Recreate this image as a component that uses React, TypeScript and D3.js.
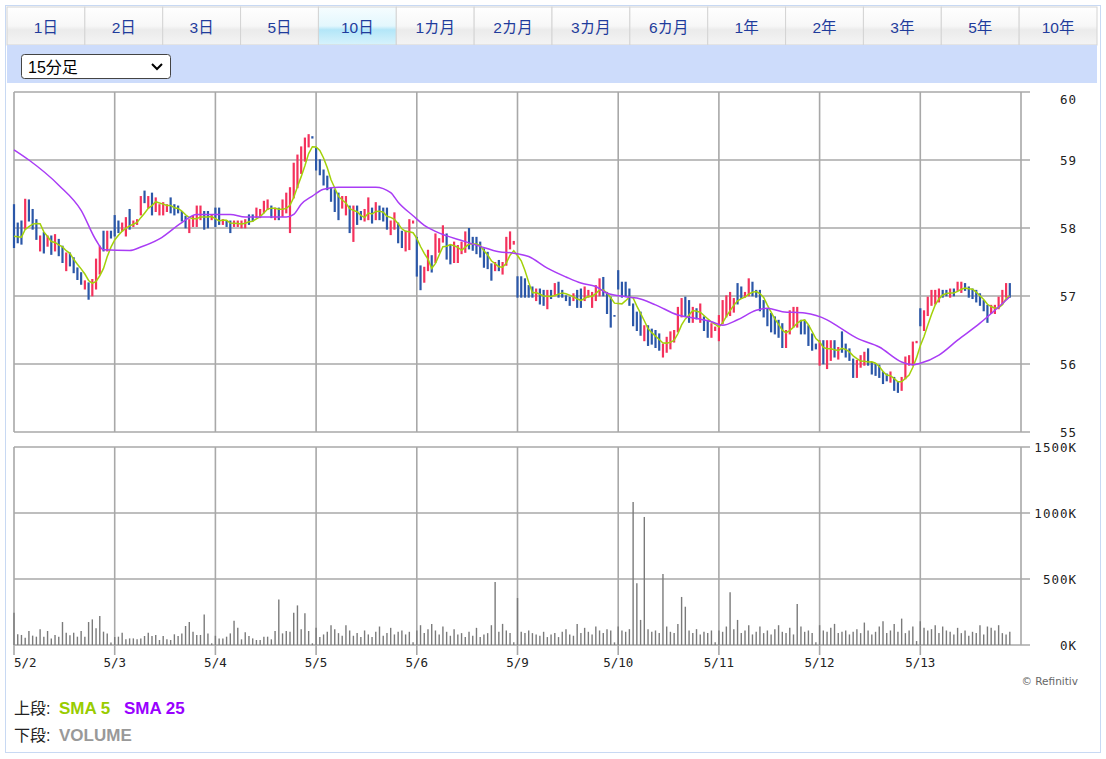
import { useEffect, useRef } from "react";
import * as d3 from "d3";

// tabs and select
const tabLabels = ["1日", "2日", "3日", "5日", "10日", "1カ月", "2カ月", "3カ月", "6カ月", "1年", "2年", "3年", "5年", "10年"];
const activeTab = "10日";
const intervalLabel = "15分足";

// x categories: one session per label, 27 fifteen-minute bars each
const dayLabels = ["5/2", "5/3", "5/4", "5/5", "5/6", "5/9", "5/10", "5/11", "5/12", "5/13"];
const barsPerDay = 27;

const priceTicks = [55, 56, 57, 58, 59, 60];
const volumeTicks = [0, 500, 1000, 1500]; // thousands

// bar highs per session
const dayHighs = [
  [58.35, 58.08, 58.11, 58.43, 58.42, 58.28, 58.13, 57.89, 57.94, 57.89, 57.89, 57.91, 57.84, 57.74, 57.64, 57.64, 57.57, 57.42, 57.35, 57.23, 57.2, 57.25, 57.55, 57.74, 57.96, 57.96, 57.96],
  [58.19, 58.11, 58.08, 58.16, 58.28, 58.11, 58.13, 58.47, 58.55, 58.47, 58.52, 58.45, 58.35, 58.38, 58.35, 58.45, 58.35, 58.33, 58.25, 58.18, 58.13, 58.18, 58.33, 58.33, 58.25, 58.25, 58.2],
  [58.3, 58.3, 58.13, 58.11, 58.11, 58.11, 58.11, 58.11, 58.13, 58.2, 58.2, 58.3, 58.28, 58.4, 58.42, 58.33, 58.3, 58.3, 58.42, 58.52, 58.6, 58.96, 59.08, 59.2, 59.33, 59.38, 59.35],
  [59.18, 59.01, 58.86, 58.77, 58.6, 58.57, 58.52, 58.47, 58.47, 58.33, 58.33, 58.33, 58.25, 58.28, 58.45, 58.3, 58.38, 58.33, 58.3, 58.3, 58.11, 58.23, 58.08, 57.96, 57.96, 58.13, 58.11],
  [57.87, 57.45, 57.43, 57.68, 57.6, 57.92, 57.85, 58.04, 57.92, 57.75, 57.8, 57.75, 57.8, 57.95, 58.0, 57.87, 57.87, 57.8, 57.7, 57.65, 57.48, 57.5, 57.53, 57.5, 57.87, 57.95, 57.81],
  [57.29, 57.29, 57.26, 57.16, 57.14, 57.11, 57.11, 57.09, 57.09, 57.09, 57.19, 57.21, 57.09, 57.01, 56.99, 57.04, 57.09, 57.11, 57.14, 57.09, 57.06, 57.16, 57.26, 57.28, 57.06, 56.99, 56.72],
  [57.38, 57.21, 57.21, 57.11, 56.89, 56.77, 56.77, 56.57, 56.57, 56.52, 56.5, 56.45, 56.3, 56.4, 56.48, 56.5, 56.84, 56.97, 56.99, 56.94, 56.84, 56.82, 56.89, 56.7, 56.65, 56.6, 56.55],
  [56.72, 56.94, 57.01, 57.06, 56.97, 57.19, 57.14, 57.06, 57.26, 57.21, 57.09, 57.09, 56.94, 56.82, 56.75, 56.7, 56.65, 56.6, 56.5, 56.79, 56.84, 56.84, 56.65, 56.65, 56.57, 56.45, 56.3],
  [56.35, 56.35, 56.35, 56.35, 56.35, 56.25, 56.48, 56.3, 56.23, 56.08, 56.06, 56.13, 56.18, 56.23, 56.03, 56.01, 55.99, 55.89, 55.86, 55.89, 55.81, 55.74, 55.81, 56.11, 56.13, 56.33, 56.34],
  [56.82, 56.79, 56.99, 57.09, 57.09, 57.11, 57.09, 57.09, 57.11, 57.11, 57.21, 57.21, 57.19, 57.14, 57.11, 57.09, 57.04, 56.94, 56.87, 56.87, 56.87, 56.99, 57.09, 57.19, 57.19],
];

// bar lows per session
const dayLows = [
  [57.72, 57.79, 57.77, 57.99, 58.11, 57.99, 57.84, 57.67, 57.64, 57.74, 57.62, 57.67, 57.6, 57.5, 57.38, 57.45, 57.35, 57.25, 57.18, 57.11, 56.96, 57.01, 57.11, 57.33, 57.67, 57.67, 57.86],
  [57.89, 57.94, 57.96, 57.89, 57.99, 58.03, 58.06, 58.2, 58.38, 58.3, 58.2, 58.25, 58.2, 58.2, 58.25, 58.23, 58.2, 58.23, 58.11, 58.01, 57.94, 58.03, 58.03, 58.13, 57.99, 58.01, 58.13],
  [58.03, 58.06, 58.06, 58.03, 57.94, 58.03, 58.03, 58.01, 58.01, 58.06, 58.11, 58.16, 58.16, 58.23, 58.28, 58.16, 58.13, 58.13, 58.18, 58.23, 57.94, 58.45, 58.6, 58.81, 58.99, 59.2, 59.33],
  [58.86, 58.79, 58.64, 58.57, 58.4, 58.25, 58.13, 58.3, 58.2, 57.94, 57.81, 58.06, 58.13, 58.11, 58.13, 58.08, 58.13, 58.13, 58.11, 57.99, 57.91, 57.99, 57.79, 57.72, 57.67, 57.69, 58.08],
  [57.3, 57.1, 57.21, 57.38, 57.36, 57.5, 57.65, 57.8, 57.55, 57.48, 57.5, 57.5, 57.63, 57.65, 57.7, 57.68, 57.63, 57.58, 57.43, 57.41, 57.24, 57.38, 57.38, 57.33, 57.46, 57.7, 57.77],
  [56.99, 56.99, 56.99, 56.99, 56.99, 56.94, 56.89, 56.87, 56.82, 56.97, 57.01, 56.99, 56.99, 56.94, 56.87, 56.94, 56.84, 56.84, 56.94, 56.99, 56.84, 56.94, 57.01, 57.01, 56.75, 56.55, 56.71],
  [57.11, 56.99, 57.01, 56.87, 56.57, 56.5, 56.43, 56.35, 56.28, 56.3, 56.25, 56.21, 56.11, 56.18, 56.23, 56.33, 56.48, 56.7, 56.72, 56.62, 56.62, 56.67, 56.62, 56.5, 56.4, 56.4, 56.5],
  [56.35, 56.6, 56.7, 56.72, 56.77, 56.89, 56.97, 56.99, 57.01, 57.01, 56.99, 56.79, 56.7, 56.57, 56.48, 56.45, 56.4, 56.25, 56.25, 56.45, 56.55, 56.55, 56.45, 56.45, 56.28, 56.21, 56.23],
  [55.99, 56.01, 55.94, 56.06, 56.11, 56.08, 56.18, 56.11, 56.06, 55.81, 55.81, 55.96, 55.99, 55.99, 55.86, 55.84, 55.81, 55.72, 55.76, 55.74, 55.62, 55.59, 55.62, 55.79, 55.99, 55.99, 56.32],
  [56.57, 56.5, 56.72, 56.87, 56.89, 56.92, 56.99, 57.01, 56.99, 57.01, 57.09, 57.06, 57.09, 56.99, 56.97, 56.92, 56.87, 56.79, 56.62, 56.75, 56.75, 56.82, 56.89, 56.99, 56.99],
];

// r = up bar, b = down bar
const dayDirs = [
  "bbbrbbbrbrbrbbrbbbbrbrrrbrb",
  "bbrrbrrrbrbrrrrbbbbbrrrrbbr",
  "bbrbbrrrrbbrrrrbrbrrrrrrrrb",
  "bbbbbbbrrbrbbrrbrbbbrrbbrrr",
  "bbrrbrrrbbrrrrbbbbbbbrbrrrr",
  "bbbbbrbbrbrbbbbrbbrrrrrbbbb",
  "bbbbbbbrbbbbrrrrrrbbrbrbbrr",
  "rrrrrbbrrbbbbbbbbbrrrrbbbbb",
  "rbrrbrbbbbrrrbbbbbbrbbrrrrr",
  "brrrrrbbrbrrbbbbbbbrrrrrb",
];

// volume per bar, thousands of shares
const dayVolumes = [
  [245, 81, 76, 55, 106, 71, 63, 119, 63, 106, 50, 76, 63, 174, 93, 73, 93, 63, 106, 63, 174, 194, 126, 220, 101, 88, 18],
  [60, 63, 93, 43, 50, 50, 43, 50, 68, 93, 68, 76, 38, 68, 43, 38, 81, 68, 88, 144, 174, 101, 76, 76, 232, 88, 13],
  [70, 50, 50, 63, 88, 184, 131, 43, 96, 68, 50, 38, 38, 63, 63, 43, 106, 345, 88, 106, 101, 245, 300, 119, 240, 106, 13],
  [130, 60, 80, 100, 150, 120, 90, 70, 150, 110, 70, 90, 60, 110, 80, 60, 100, 140, 70, 90, 130, 80, 100, 110, 80, 100, 20],
  [110, 150, 90, 120, 160, 110, 80, 140, 100, 70, 120, 80, 90, 60, 100, 70, 130, 60, 80, 90, 150, 477, 100, 160, 110, 90, 20],
  [356, 100, 90, 110, 90, 80, 70, 100, 60, 80, 90, 60, 100, 120, 80, 70, 160, 90, 130, 100, 80, 140, 110, 90, 120, 110, 20],
  [140, 110, 100, 120, 1083, 467, 190, 970, 120, 100, 110, 90, 538, 140, 100, 90, 160, 364, 290, 110, 90, 120, 80, 100, 90, 110, 20],
  [110, 100, 140, 400, 120, 190, 90, 110, 150, 80, 100, 140, 90, 110, 80, 120, 150, 100, 90, 130, 80, 310, 140, 100, 110, 90, 20],
  [150, 110, 100, 130, 160, 90, 100, 110, 80, 100, 120, 90, 170, 110, 80, 100, 140, 180, 90, 110, 160, 100, 200, 90, 110, 140, 30],
  [180, 130, 110, 120, 150, 90, 140, 110, 100, 80, 130, 90, 110, 70, 100, 90, 150, 80, 140, 130, 110, 150, 90, 80, 100],
];

// SMA 25 at these bar positions
const sma25Bars = [0, 4, 12, 18, 22, 24, 31, 34, 39, 45, 49, 58, 62, 73, 75, 77, 80, 83, 87, 97, 101, 103, 107, 110, 113, 121, 125, 130, 134, 138, 143, 148, 152, 156, 159, 164, 167, 172, 178, 183, 187, 190, 194, 199, 202, 206, 212, 218, 221, 226, 232, 238, 241, 243, 248, 253, 259, 263, 267];
const sma25Values = [59.15, 59.0, 58.63, 58.26, 57.82, 57.68, 57.67, 57.72, 57.84, 58.08, 58.2, 58.2, 58.16, 58.16, 58.2, 58.35, 58.47, 58.57, 58.6, 58.6, 58.52, 58.38, 58.18, 58.04, 57.95, 57.8, 57.73, 57.65, 57.63, 57.58, 57.41, 57.28, 57.19, 57.14, 57.04, 56.99, 56.97, 56.87, 56.72, 56.67, 56.62, 56.57, 56.65, 56.79, 56.82, 56.77, 56.75, 56.65, 56.55, 56.38, 56.25, 56.03, 55.99, 56.01, 56.13, 56.35, 56.6, 56.79, 56.99];

const UP = "#f4315c";
const DOWN = "#2b57a8";
const GRID = "#a8a8a8";
const MONO = "'DejaVu Sans Mono', monospace";
const JP = "'Liberation Sans', 'Noto Sans CJK JP', sans-serif";

export default function App() {
  const ref = useRef<SVGSVGElement>(null);

  useEffect(() => {
    if (!ref.current) return;
    const svg = d3.select(ref.current);
    svg.selectAll("*").remove();

    const bars = dayHighs.flatMap((hs, d) =>
      hs.map((h, j) => ({
        i: d * barsPerDay + j,
        high: h,
        low: dayLows[d][j],
        up: dayDirs[d][j] === "r",
        vol: dayVolumes[d][j],
      }))
    );

    const left = 14;
    const right = 1021;
    const x = d3.scaleLinear().domain([0, dayLabels.length * barsPerDay]).range([left, right]);
    const y = d3.scaleLinear().domain([55, 60]).range([432, 92]);
    const yv = d3.scaleLinear().domain([0, 1500]).range([645, 447]);

    // ---- header tabs ----
    const defs = svg.append("defs");
    const g1 = defs.append("linearGradient").attr("id", "tab").attr("x1", 0).attr("y1", 0).attr("x2", 0).attr("y2", 1);
    g1.append("stop").attr("offset", "0%").attr("stop-color", "#ffffff");
    g1.append("stop").attr("offset", "50%").attr("stop-color", "#f7f7f7");
    g1.append("stop").attr("offset", "60%").attr("stop-color", "#ebebeb");
    g1.append("stop").attr("offset", "100%").attr("stop-color", "#f4f4f4");
    const g2 = defs.append("linearGradient").attr("id", "tabOn").attr("x1", 0).attr("y1", 0).attr("x2", 0).attr("y2", 1);
    g2.append("stop").attr("offset", "0%").attr("stop-color", "#f6fdff");
    g2.append("stop").attr("offset", "50%").attr("stop-color", "#e3f7fd");
    g2.append("stop").attr("offset", "60%").attr("stop-color", "#b3e6f8");
    g2.append("stop").attr("offset", "100%").attr("stop-color", "#d8f3fc");

    svg.append("rect").attr("x", 5.5).attr("y", 5.5).attr("width", 1095).attr("height", 747)
      .attr("fill", "none").attr("stroke", "#c8d9f3");

    const tabX = d3.scaleBand().domain(tabLabels).range([7, 1097]);
    const tabs = svg.append("g").selectAll("g").data(tabLabels).join("g");
    tabs.append("rect")
      .attr("x", (d) => tabX(d)!).attr("y", 7)
      .attr("width", tabX.bandwidth()).attr("height", 38)
      .attr("fill", (d) => (d === activeTab ? "url(#tabOn)" : "url(#tab)"))
      .attr("stroke", "#d4d4d4");
    tabs.append("text")
      .attr("x", (d) => tabX(d)! + tabX.bandwidth() / 2).attr("y", 33)
      .attr("text-anchor", "middle")
      .style("font-family", JP).style("font-size", "15.5px")
      .attr("fill", "#1f3c9c")
      .text((d) => d);

    svg.append("rect").attr("x", 7).attr("y", 45).attr("width", 1090).attr("height", 38).attr("fill", "#cddcfb");
    svg.append("rect").attr("x", 21.5).attr("y", 54.5).attr("width", 149).attr("height", 24).attr("rx", 3)
      .attr("fill", "#fff").attr("stroke", "#444");
    svg.append("text").attr("x", 28).attr("y", 72.5)
      .style("font-family", JP).style("font-size", "16px").attr("fill", "#000").text(intervalLabel);
    svg.append("path").attr("d", "M152,64 L157,69 L162,64").attr("fill", "none").attr("stroke", "#000").attr("stroke-width", 2);

    // ---- grids ----
    const grid = svg.append("g").attr("stroke", GRID).attr("stroke-width", 1.6);
    grid.selectAll(".ph").data(priceTicks).join("line")
      .attr("x1", left).attr("x2", right + 9)
      .attr("y1", (d) => y(d)).attr("y2", (d) => y(d));
    grid.selectAll(".pv").data(dayLabels).join("line")
      .attr("x1", (_, k) => x(k * barsPerDay)).attr("x2", (_, k) => x(k * barsPerDay))
      .attr("y1", y(60)).attr("y2", y(55));
    grid.append("line").attr("x1", right).attr("x2", right).attr("y1", y(60)).attr("y2", y(55));

    grid.selectAll(".vh").data(volumeTicks).join("line")
      .attr("x1", left).attr("x2", right + 9)
      .attr("y1", (d) => yv(d)).attr("y2", (d) => yv(d));
    grid.selectAll(".vv").data(dayLabels).join("line")
      .attr("x1", (_, k) => x(k * barsPerDay)).attr("x2", (_, k) => x(k * barsPerDay))
      .attr("y1", yv(1500)).attr("y2", yv(0) + 10);
    grid.append("line").attr("x1", right).attr("x2", right).attr("y1", yv(1500)).attr("y2", yv(0));

    // ---- axis labels ----
    svg.append("g").selectAll("text").data(priceTicks).join("text")
      .attr("x", 1077).attr("y", (d) => (d === 60 ? y(d) + 12 : y(d) + 5))
      .attr("text-anchor", "end")
      .style("font-family", MONO).style("font-size", "12.5px").style("letter-spacing", "1px")
      .attr("fill", "#222")
      .text((d) => d);
    svg.append("g").selectAll("text").data(volumeTicks).join("text")
      .attr("x", 1077).attr("y", (d) => yv(d) + 5)
      .attr("text-anchor", "end")
      .style("font-family", MONO).style("font-size", "12.5px").style("letter-spacing", "1px")
      .attr("fill", "#222")
      .text((d) => `${d}K`);
    svg.append("g").selectAll("text").data(dayLabels).join("text")
      .attr("x", (_, k) => x(k * barsPerDay))
      .attr("y", 667)
      .attr("text-anchor", (_, k) => (k === 0 ? "start" : "middle"))
      .style("font-family", MONO).style("font-size", "12.5px")
      .attr("fill", "#222")
      .text((d) => d);

    svg.append("text").attr("x", 1078).attr("y", 685).attr("text-anchor", "end")
      .style("font-family", "'DejaVu Sans', sans-serif").style("font-size", "10.5px")
      .attr("fill", "#666").text("© Refinitiv");

    // ---- volume ----
    svg.append("g").selectAll("line").data(bars).join("line")
      .attr("x1", (d) => x(d.i)).attr("x2", (d) => x(d.i))
      .attr("y1", yv(0)).attr("y2", (d) => yv(d.vol))
      .attr("stroke", "#7a7a7a").attr("stroke-width", 1.4);

    // ---- price bars ----
    svg.append("g").selectAll("line").data(bars).join("line")
      .attr("x1", (d) => x(d.i)).attr("x2", (d) => x(d.i))
      .attr("y1", (d) => y(d.high)).attr("y2", (d) => y(d.low) + 1)
      .attr("stroke", (d) => (d.up ? UP : DOWN)).attr("stroke-width", 2.2);

    // SMA 5 of the bar closes (close sits toward the bar end of its direction)
    const closes = bars.map((b) => {
      const mid = (b.high + b.low) / 2;
      const half = (b.high - b.low) / 2;
      return b.up ? mid + half * 0.5 : mid - half * 0.5;
    });
    const sma5 = bars.map((b, k) => {
      const w = closes.slice(Math.max(0, k - 4), k + 1);
      return { i: b.i, v: d3.mean(w)! };
    });
    const line = d3.line<{ i: number; v: number }>().x((d) => x(d.i)).y((d) => y(d.v));

    svg.append("path").datum(sma5).attr("d", line)
      .attr("fill", "none").attr("stroke", "#a3d10a").attr("stroke-width", 1.5);

    const sma25 = sma25Bars.map((b, k) => ({ i: b, v: sma25Values[k] }));
    svg.append("path").datum(sma25).attr("d", line.curve(d3.curveMonotoneX))
      .attr("fill", "none").attr("stroke", "#a93cf5").attr("stroke-width", 1.5);

    // ---- legend ----
    const legend = svg.append("g").style("font-family", JP).style("font-size", "16px");
    legend.append("text").attr("x", 14).attr("y", 714).attr("fill", "#222").text("上段:");
    legend.append("text").attr("x", 59).attr("y", 714).attr("fill", "#99cc00")
      .style("font-weight", "bold").style("font-size", "17px").text("SMA 5");
    legend.append("text").attr("x", 124).attr("y", 714).attr("fill", "#9900ff")
      .style("font-weight", "bold").style("font-size", "17px").text("SMA 25");
    legend.append("text").attr("x", 14).attr("y", 741).attr("fill", "#222").text("下段:");
    legend.append("text").attr("x", 59).attr("y", 741).attr("fill", "#999")
      .style("font-weight", "bold").style("font-size", "17px").text("VOLUME");
  }, []);

  return (
    <svg
      ref={ref}
      width={1106}
      height={759}
      style={{ position: "absolute", left: 0, top: 0, background: "#fff" }}
    />
  );
}
